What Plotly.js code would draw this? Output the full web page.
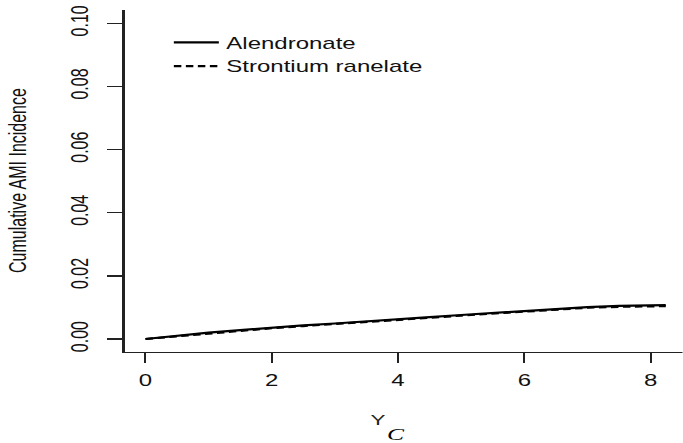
<!DOCTYPE html>
<html>
<head>
<meta charset="utf-8">
<script src="https://cdn.plot.ly/plotly-3.0.1.min.js"></script>
<style>
  html, body { margin: 0; padding: 0; background: #fff; overflow: hidden; }
  #wrap { width: 683px; height: 443px; overflow: hidden; }
  #chart { width: 455.33px; height: 443px; transform: scaleX(1.5); transform-origin: 0 0; }
</style>
</head>
<body>
<div id="wrap"><div id="chart"></div></div>
<script>
// Data
const years = [0, 0.5, 1, 1.5, 2, 2.5, 3, 3.5, 4, 4.5, 5, 5.5, 6, 6.5, 7, 7.5, 8, 8.24];
const alendronate = [0, 0.0011, 0.0020, 0.0028, 0.0036, 0.0043, 0.0049, 0.0055, 0.0061, 0.0069, 0.0076, 0.0082, 0.0088, 0.0096, 0.0101, 0.0105, 0.0107, 0.0107];
const strontium = [0, 0.0009, 0.0018, 0.0026, 0.0034, 0.0041, 0.0047, 0.0054, 0.0060, 0.0067, 0.0074, 0.0080, 0.0086, 0.0094, 0.0099, 0.0102, 0.0104, 0.0104];
const seriesNames = ["Alendronate", "Strontium ranelate"];
const xTicks = [0, 2, 4, 6, 8];
const yTicks = [0, 0.02, 0.04, 0.06, 0.08, 0.10];
const yTickText = ["0.00", "0.02", "0.04", "0.06", "0.08", "0.10"];
const yTitle = "Cumulative AMI Incidence";
const xTitle = "Y";
const panelLabel = "C";

const FONT = "Liberation Sans, Arial, sans-serif";

const traces = [
  { x: years, y: alendronate, name: seriesNames[0], type: "scatter", mode: "lines",
    line: { color: "#000", width: 2.2, dash: "solid" } },
  { x: years, y: strontium, name: seriesNames[1], type: "scatter", mode: "lines",
    line: { color: "#000", width: 2.2, dash: "5px,3px" } }
];

const layout = {
  width: 455.33, height: 443,
  margin: { l: 82.67, r: 0, t: 10, b: 91 },
  paper_bgcolor: "#fff", plot_bgcolor: "#fff",
  font: { family: FONT, size: 16, color: "#000" },
  showlegend: true,
  legend: {
    x: 0.075, y: 0.955, xanchor: "left", yanchor: "top",
    bgcolor: "rgba(0,0,0,0)", borderwidth: 0,
    font: { family: FONT, size: 16, color: "#111" },
    tracegroupgap: 0, itemwidth: 30
  },
  xaxis: {
    range: [-0.332, 8.505], tickvals: xTicks, ticktext: xTicks.map(String),
    showgrid: false, zeroline: false, showline: true, linecolor: "#222", linewidth: 1.3,
    ticks: "outside", ticklen: 10, tickwidth: 1.3, tickcolor: "#222",
    ticklabelstandoff: 3,
    tickfont: { family: FONT, size: 16, color: "#111" }
  },
  yaxis: {
    range: [-0.00412, 0.1042], tickvals: yTicks, ticktext: yTickText,
    showgrid: false, zeroline: false, showline: true, linecolor: "#222", linewidth: 2,
    ticks: "outside", ticklen: 10, tickwidth: 1.5, tickcolor: "#222",
    tickangle: -90, ticklabelstandoff: 6,
    tickfont: { family: FONT, size: 16, color: "#111" }
  },
  annotations: [
    { text: yTitle, xref: "paper", yref: "paper", x: -0.1935, y: 0.5,
      xanchor: "center", yanchor: "middle", textangle: -90, showarrow: false,
      font: { family: FONT, size: 16, color: "#111" } },
    { text: xTitle, xref: "paper", yref: "paper", x: (252 - 82.67) / 372.67, y: (352 - 419) / 342,
      xanchor: "center", yanchor: "middle", showarrow: false,
      font: { family: FONT, size: 15, color: "#222" } },
    { text: "<i>" + panelLabel + "</i>", xref: "paper", yref: "paper", x: (263.5 - 82.67) / 372.67, y: (352 - 434) / 342,
      xanchor: "center", yanchor: "middle", showarrow: false,
      font: { family: "Liberation Serif, serif", size: 17, color: "#000" } }
  ]
};

Plotly.newPlot("chart", traces, layout, { displayModeBar: false, staticPlot: true });
</script>
</body>
</html>
